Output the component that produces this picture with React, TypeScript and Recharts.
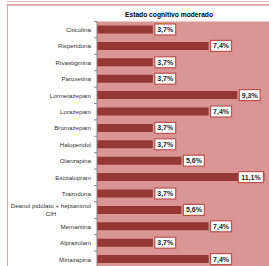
import React from "react";
import { BarChart, Bar, XAxis, YAxis, CartesianGrid, LabelList } from "recharts";

const categories = [
  "Citicolina",
  "Risperidona",
  "Rivastigmina",
  "Paroxetina",
  "Lormetazepam",
  "Lorazepam",
  "Bromazepam",
  "Haloperidol",
  "Olanzapina",
  "Escitalopram",
  "Trazodona",
  "Deanol pidolato + heptaminol\nClH",
  "Memantina",
  "Alprazolam",
  "Mirtazapina",
];
const values = [3.7, 7.4, 3.7, 3.7, 9.3, 7.4, 3.7, 3.7, 5.6, 11.1, 3.7, 5.6, 7.4, 3.7, 7.4];
const title = "Estado cognitivo moderado";

const data = categories.map((c, i) => ({ name: c, value: values[i] }));

const BAND = 16.4;
const FONT = "'Liberation Sans', Arial, sans-serif";

const fmt = (v: number) => v.toFixed(1).replace(".", ",") + "%";

const Tick = (props: any) => {
  const { x, y, payload, index } = props;
  const lines = String(payload.value).split("\n");
  const last = index === categories.length - 1;
  return (
    <g>
      <line x1={x + 3} x2={x + 6} y1={y - BAND / 2} y2={y - BAND / 2} stroke="#868686" strokeWidth={1} />
      {last && <line x1={x + 3} x2={x + 6} y1={y + BAND / 2} y2={y + BAND / 2} stroke="#868686" strokeWidth={1} />}
      {lines.length === 1 ? (
        <text x={x} y={y} dy={2.2} textAnchor="end" fontSize={6.2} fill="#333333" fontFamily={FONT}>
          {lines[0]}
        </text>
      ) : (
        <text fontSize={6.2} fill="#333333" fontFamily={FONT}>
          <tspan x={x} y={y - 2} textAnchor="end">{lines[0]}</tspan>
          <tspan x={x - 40} y={y + 6} textAnchor="middle">{lines[1]}</tspan>
        </text>
      )}
    </g>
  );
};

const ValueLabel = (props: any) => {
  const { x, y, width, height, value } = props;
  const txt = fmt(Number(value));
  const w = txt.length * 4.1 + 4.5;
  let bx = x + width + 2;
  if (bx + w > 266) bx = x + width - w - 1;
  const cy = y + height / 2;
  return (
    <g>
      <rect x={bx} y={cy - 5.5} width={w} height={11} fill="#FFFFFF" stroke="#C0504D" strokeWidth={1.2} />
      <text x={bx + w / 2} y={cy} dy={2.5} textAnchor="middle" fontSize={7} fontWeight="bold" fill="#262626" fontFamily={FONT}>
        {txt}
      </text>
    </g>
  );
};

export default function App() {
  return (
    <div style={{ position: "absolute", left: 0, top: 0, width: 269, height: 266, overflow: "hidden", background: "#fff" }}>
      <div style={{ position: "absolute", left: 7, top: 1, width: 262, height: 1, background: "#D9B8B8" }} />
      <div style={{ position: "absolute", left: 7, top: 4, width: 262, height: 2, background: "#E0AFAE" }} />
      <div style={{ position: "absolute", left: 7, top: 4, width: 1, height: 262, background: "#D9A3A2" }} />
      <div style={{ position: "absolute", left: 0, top: 0 }}>
        <BarChart
          width={290}
          height={270}
          data={data}
          layout="vertical"
          margin={{ top: 21.5, right: 12, bottom: 2.5, left: 0 }}
          barCategoryGap={0}
        >
          <CartesianGrid horizontal={false} vertical={false} fill="#D99694" fillOpacity={1} stroke="none" />
          <XAxis type="number" domain={[0, 12]} hide />
          <YAxis
            type="category"
            dataKey="name"
            width={97}
            axisLine={{ stroke: "#868686", strokeWidth: 1 }}
            tickLine={false}
            tickSize={0}
            tickMargin={6}
            interval={0}
            tick={<Tick />}
          />
          <Bar dataKey="value" fill="#953735" barSize={8} isAnimationActive={false}>
            <LabelList dataKey="value" content={<ValueLabel />} />
          </Bar>
          <text x={169} y={15} dy={2.3} textAnchor="middle" fontSize={6.7} fontWeight="bold" fill="#000" fontFamily={FONT}>
            {title}
          </text>
        </BarChart>
      </div>
    </div>
  );
}
